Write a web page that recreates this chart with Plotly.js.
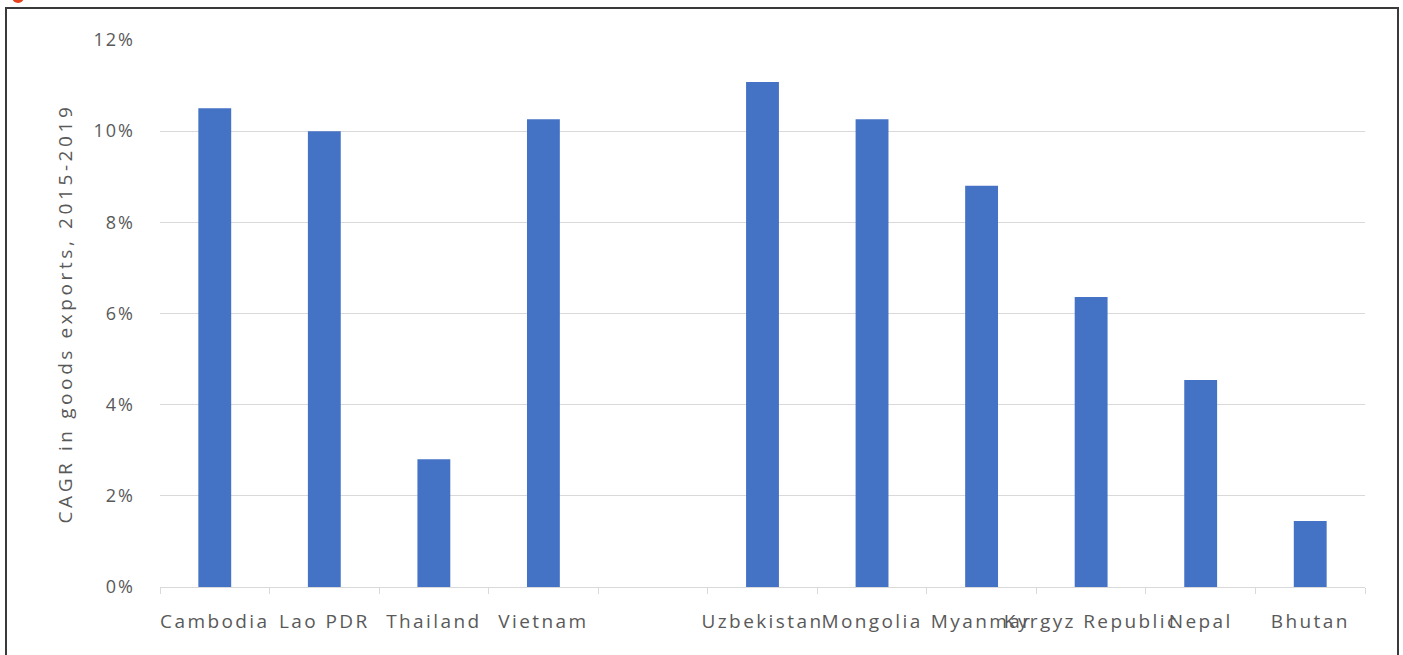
<!DOCTYPE html>
<html>
<head>
<meta charset="utf-8">
<script src="https://cdn.plot.ly/plotly-3.0.1.min.js"></script>
<style>
  html, body { margin: 0; padding: 0; background: #fff; overflow: hidden; }
  #chart { width: 1403px; height: 655px; position: absolute; left: 0; top: 0; }
  #frame { position: absolute; left: 5px; top: 7px; width: 1390px; height: 660px; border: 2px solid #3a3a3a; pointer-events: none; }
  #dot { position: absolute; left: 12px; top: -9px; width: 12px; height: 12px; border-radius: 50%; background: #e8401c; }
  #chart .xtick text { letter-spacing: 2.4px; }
  #chart .ytick text { letter-spacing: 2px; }
  #chart .ytitle { letter-spacing: 3.6px; }
</style>
</head>
<body>
<div id="chart"></div>
<div id="frame"></div>
<div id="dot"></div>
<script>
const categories = ["Cambodia", "Lao PDR", "Thailand", "Vietnam", " ", "Uzbekistan", "Mongolia", "Myanmar", "Kyrgyz Republic", "Nepal", "Bhutan"];
const cagr = [0.105, 0.100, 0.028, 0.1026, null, 0.1108, 0.1026, 0.088, 0.0636, 0.0454, 0.0145];
const yTicks = [0, 0.02, 0.04, 0.06, 0.08, 0.10, 0.12];
const yTickLabels = ["0%", "2%", "4%", "6%", "8%", "10%", "12%"];

const textColor = "#595959";
const fontFam = "Open Sans, Noto Sans, sans-serif";

Plotly.newPlot("chart", [{
  type: "bar",
  x: categories,
  y: cagr,
  marker: { color: "#4472C4" },
  hoverinfo: "x+y"
}], {
  width: 1403,
  height: 655,
  margin: { l: 160, r: 38, t: 40, b: 68 },
  paper_bgcolor: "#ffffff",
  plot_bgcolor: "#ffffff",
  bargap: 0.7,
  showlegend: false,
  font: { family: fontFam, color: textColor, size: 19 },
  xaxis: {
    type: "category",
    categoryorder: "array",
    categoryarray: categories,
    tickangle: 0,
    ticks: "outside",
    tickson: "boundaries",
    ticklen: 6,
    tickcolor: "#d9d9d9",
    showline: true,
    linecolor: "#d9d9d9",
    linewidth: 1,
    showgrid: false,
    ticklabelstandoff: 17,
    tickfont: { size: 19, color: textColor, family: fontFam }
  },
  yaxis: {
    range: [0, 0.12],
    tickvals: yTicks,
    ticktext: yTickLabels,
    showgrid: true,
    gridcolor: "#d9d9d9",
    gridwidth: 1,
    zeroline: false,
    showline: false,
    ticks: "",
    ticklabelstandoff: 24,
    tickfont: { size: 18, color: textColor, family: fontFam },
    title: { text: "CAGR in goods exports, 2015-2019", font: { size: 19, color: textColor, family: fontFam }, standoff: 21 }
  }
}, { displayModeBar: false, staticPlot: true });
</script>
</body>
</html>
